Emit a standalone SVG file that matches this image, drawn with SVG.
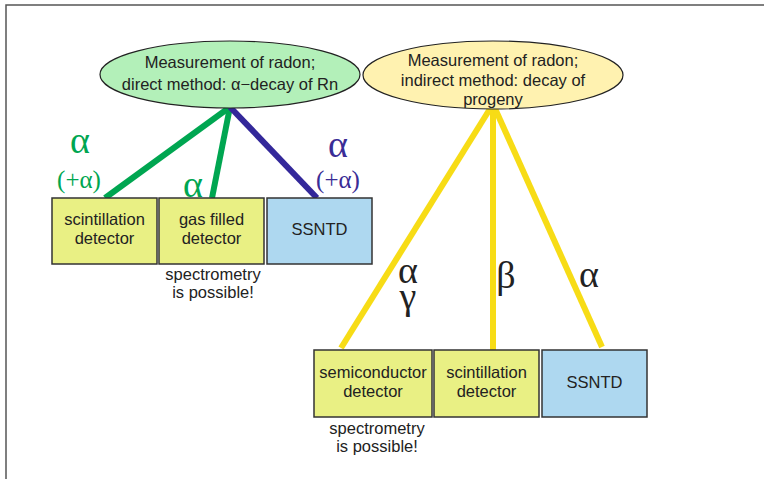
<svg xmlns="http://www.w3.org/2000/svg" width="764" height="479" viewBox="0 0 764 479">
<style>
.lbl{font-family:"Liberation Sans",Arial,sans-serif;font-size:16.5px;fill:#222;text-anchor:middle}
.gr{font-family:"Liberation Serif","Times New Roman",serif;text-anchor:middle}
.big{font-size:38px}
.par{font-size:25px}
.box{stroke:#333;stroke-width:1.5}
.yb{fill:#e9f084}
.bb{fill:#aed8f0}
.con{stroke-width:6;fill:none}
</style>
<rect x="0" y="0" width="764" height="479" fill="#fff"/>
<path d="M6,479 V5 H764" fill="none" stroke="#555" stroke-width="1.5"/>
<g id="connectors">
<line class="con" x1="230" y1="107" x2="105" y2="198" stroke="#00a651"/>
<line class="con" x1="230" y1="107" x2="212" y2="198" stroke="#00a651"/>
<line class="con" x1="230" y1="107" x2="317" y2="198" stroke="#33289a"/>
<line class="con" x1="493" y1="104" x2="341" y2="348" stroke="#f7dc16"/>
<line class="con" x1="493" y1="104" x2="493" y2="350" stroke="#f7dc16"/>
<line class="con" x1="493" y1="104" x2="602" y2="347" stroke="#f7dc16"/>
</g>
<g id="direct">
<ellipse cx="230" cy="74.5" rx="130" ry="33.5" fill="#b3f0b9" stroke="#222" stroke-width="1.2"/>
<text class="lbl" x="230" y="68">Measurement of radon;</text>
<text class="lbl" x="230" y="90">direct method: α−decay of Rn</text>
</g>
<g id="indirect">
<ellipse cx="493" cy="75" rx="130" ry="34" fill="#fff2b0" stroke="#222" stroke-width="1.2"/>
<text class="lbl" x="493" y="66">Measurement of radon;</text>
<text class="lbl" x="493" y="86">indirect method: decay of</text>
<text class="lbl" x="493" y="105">progeny</text>
</g>
<g id="scint1">
<rect class="box yb" x="52" y="198" width="105" height="66"/>
<text class="lbl" x="104.5" y="225">scintillation</text>
<text class="lbl" x="104.5" y="244">detector</text>
</g>
<g id="gas">
<rect class="box yb" x="159" y="198" width="105" height="66"/>
<text class="lbl" x="211.5" y="225">gas filled</text>
<text class="lbl" x="211.5" y="244">detector</text>
</g>
<g id="ssntd1">
<rect class="box bb" x="267" y="198" width="105" height="66"/>
<text class="lbl" x="319.5" y="235">SSNTD</text>
</g>
<g id="note1">
<text class="lbl" x="213" y="280">spectrometry</text>
<text class="lbl" x="213" y="298">is possible!</text>
</g>
<g id="semi">
<rect class="box yb" x="314" y="350" width="118" height="67"/>
<text class="lbl" x="373" y="378">semiconductor</text>
<text class="lbl" x="373" y="397">detector</text>
</g>
<g id="scint2">
<rect class="box yb" x="434" y="350" width="105" height="67"/>
<text class="lbl" x="486.5" y="378">scintillation</text>
<text class="lbl" x="486.5" y="397">detector</text>
</g>
<g id="ssntd2">
<rect class="box bb" x="542" y="350" width="105" height="67"/>
<text class="lbl" x="594.5" y="388">SSNTD</text>
</g>
<g id="note2">
<text class="lbl" x="377" y="434">spectrometry</text>
<text class="lbl" x="377" y="452">is possible!</text>
</g>
<g id="greek">
<text class="gr big" x="80" y="153" fill="#00a651">α</text>
<text class="gr par" x="79" y="188" fill="#00a651">(+α)</text>
<text class="gr big" x="193" y="197" fill="#00a651">α</text>
<text class="gr big" x="338" y="157" fill="#3a2d96">α</text>
<text class="gr par" x="338" y="188" fill="#3a2d96">(+α)</text>
<text class="gr big" fill="#222"><tspan x="408" y="283">α</tspan><tspan x="408" y="309">γ</tspan></text>
<text class="gr big" x="506" y="288" fill="#222">β</text>
<text class="gr big" x="589" y="287" fill="#222">α</text>
</g>
</svg>
